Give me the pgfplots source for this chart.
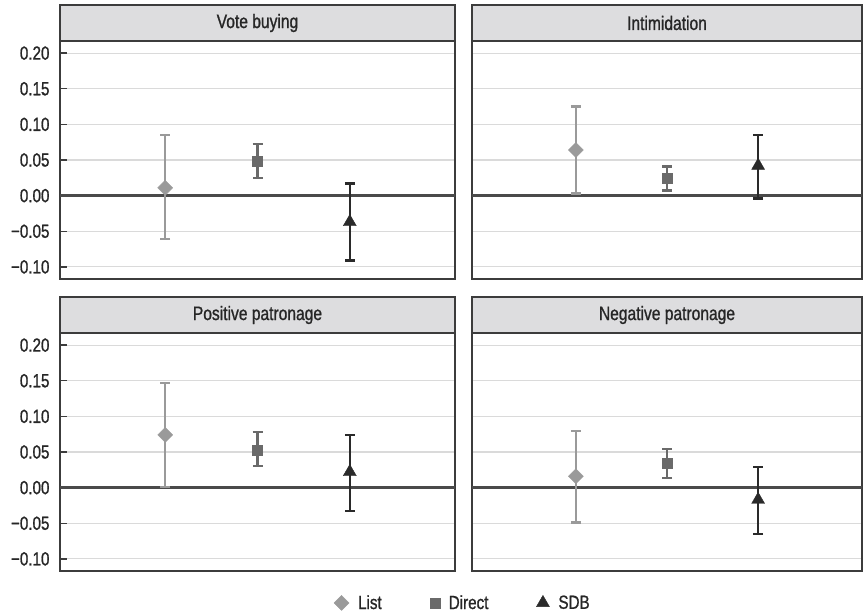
\documentclass[border=0pt]{standalone}
\usepackage{pgfplots}
\pgfplotsset{compat=1.18}
\usepackage{fontspec}
\setmainfont{Liberation Sans}[FakeStretch=0.8, FakeBold=1]
\definecolor{listc}{HTML}{9A9A9A}
\definecolor{directc}{HTML}{6A6A6A}
\definecolor{sdbc}{HTML}{2A2A2A}
\definecolor{gridc}{HTML}{DADADA}
\definecolor{stripc}{HTML}{DDDDDF}
\definecolor{framec}{HTML}{3C3C3C}
\definecolor{zeroc}{HTML}{4A4A4A}
\definecolor{textc}{HTML}{262626}
\newcommand{\ticksize}{\fontsize{19}{22}\selectfont}
\newcommand{\titlesize}{\fontsize{19.5}{22}\selectfont}
\pgfplotsset{
  panel/.style={anchor=south west, scale only axis, height=238pt,
    xmin=-0.14, xmax=4.14, ymin=-0.117, ymax=0.217,
    xtick=\empty,
    ytick={-0.1,-0.05,0,0.05,0.1,0.15,0.2},
    yticklabels={−0.10,−0.05,0.00,0.05,0.10,0.15,0.20},
    ytick pos=left,
    ymajorgrids, grid style={line width=1.2pt, gridc},
    axis line style={line width=1.2pt, framec},
    tick align=inside, major tick length=7pt,
    tick style={line width=1.3pt, framec},
    yticklabel style={font=\ticksize, text=textc, xshift=-7pt},
    extra y ticks={0}, extra y tick labels={},
    extra y tick style={grid style={line width=3pt, zeroc}, major tick length=0pt},
  },
  rightpanel/.style={panel, yticklabels={}, major tick length=0pt},
  sList/.style={only marks, color=listc, mark=square*, mark size=5.3pt,
    mark options={rotate=45, fill=listc, draw=listc},
    error bars/.cd, y dir=both, y explicit,
    error bar style={line width=2.3pt, listc},
    error mark options={rotate=90, line width=2.3pt, mark size=5pt, listc}, /pgfplots/.cd},
  sDirect/.style={only marks, color=directc, mark=square*, mark size=5pt,
    mark options={fill=directc, draw=directc},
    error bars/.cd, y dir=both, y explicit,
    error bar style={line width=2.3pt, directc},
    error mark options={rotate=90, line width=2.3pt, mark size=5pt, directc}, /pgfplots/.cd},
  sSDB/.style={only marks, color=sdbc, mark=triangle*, mark size=7.5pt,
    mark options={fill=sdbc, draw=sdbc},
    error bars/.cd, y dir=both, y explicit,
    error bar style={line width=2.3pt, sdbc},
    error mark options={rotate=90, line width=2.3pt, mark size=5pt, sdbc}, /pgfplots/.cd},
}
\begin{document}
\begin{tikzpicture}[x=1pt,y=1pt]
\useasboundingbox (0pt,0pt) rectangle (863pt,616pt);
% Top left: Vote buying
\begin{axis}[panel, name=tl, at={(60pt,337pt)}, width=395pt]
\addplot+[sList] coordinates {(1,0.011) += (0,0.074) -= (0,0.072)};
\addplot+[sDirect] coordinates {(2,0.049) += (0,0.023) -= (0,0.024)};
\addplot+[sSDB] coordinates {(3,-0.037) += (0,0.054) -= (0,0.054)};
\end{axis}
% Top right: Intimidation
\begin{axis}[rightpanel, name=tr, at={(472pt,337pt)}, width=390pt]
\addplot+[sList] coordinates {(1,0.064) += (0,0.061) -= (0,0.061)};
\addplot+[sDirect] coordinates {(2,0.024) += (0,0.017) -= (0,0.017)};
\addplot+[sSDB] coordinates {(3,0.042) += (0,0.043) -= (0,0.046)};
\end{axis}
% Bottom left: Positive patronage
\begin{axis}[panel, name=bl, at={(60pt,45pt)}, width=395pt,
  legend style={at={(1.02,-0.134)}, anchor=center, draw=none, fill=none,
    legend columns=3, font=\ticksize, text=textc,
    /tikz/every odd column/.append style={column sep=7pt},
    /tikz/every even column/.append style={column sep=46pt}},
  legend cell align=left]
\addplot+[forget plot, sList] coordinates {(1,0.074) += (0,0.073) -= (0,0.073)};
\addplot+[forget plot, sDirect] coordinates {(2,0.053) += (0,0.025) -= (0,0.023)};
\addplot+[forget plot, sSDB] coordinates {(3,0.022) += (0,0.052) -= (0,0.055)};
\addlegendimage{only marks, color=listc, mark=square*, mark size=5.3pt, mark options={rotate=45, fill=listc, draw=listc}}
\addlegendentry{List}
\addlegendimage{only marks, color=directc, mark=square*, mark size=5pt, mark options={fill=directc, draw=directc}}
\addlegendentry{Direct}
\addlegendimage{only marks, color=sdbc, mark=triangle*, mark size=7.5pt, mark options={fill=sdbc, draw=sdbc}}
\addlegendentry{SDB}
\end{axis}
% Bottom right: Negative patronage
\begin{axis}[rightpanel, name=br, at={(472pt,45pt)}, width=390pt]
\addplot+[sList] coordinates {(1,0.016) += (0,0.063) -= (0,0.065)};
\addplot+[sDirect] coordinates {(2,0.034) += (0,0.020) -= (0,0.020)};
\addplot+[sSDB] coordinates {(3,-0.017) += (0,0.046) -= (0,0.048)};
\end{axis}
% strips
\foreach \ax/\ttl in {tl/Vote buying, tr/Intimidation, bl/Positive patronage, br/Negative patronage}{
  \draw[fill=stripc, draw=framec, line width=1.2pt] (\ax.north west) rectangle ([yshift=36pt]\ax.north east);
  \node[font=\titlesize, text=textc] at ([yshift=18pt]\ax.north) {\ttl};
}
\end{tikzpicture}
\end{document}
